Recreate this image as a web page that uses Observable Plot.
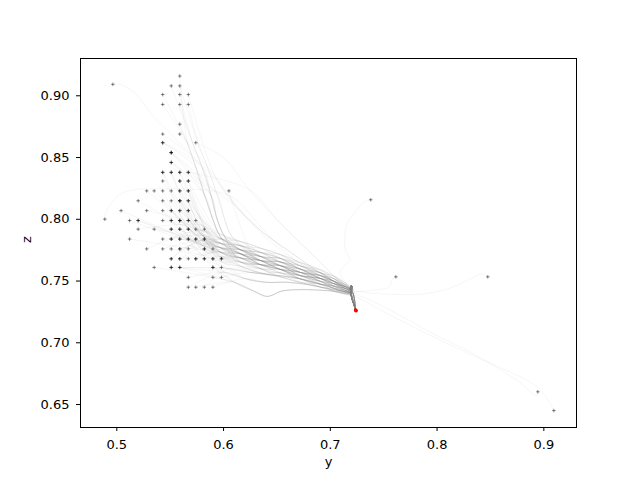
<!DOCTYPE html>
<html>
<head>
<meta charset="utf-8">
<script src="https://cdn.jsdelivr.net/npm/d3@7"></script>
<script src="https://cdn.jsdelivr.net/npm/@observablehq/plot@0.6"></script>
<style>
  html, body { margin: 0; padding: 0; background: white; }
</style>
</head>
<body>
<div id="chart"></div>
<script>
// ---------- data ----------
// starting points: [y, z, number of runs, route]
const starts = [
  [0.559,0.916,1,"D"],
  [0.551,0.908,1,"D"],[0.559,0.908,1,"D"],
  [0.543,0.901,1,"D"],[0.559,0.901,1,"D"],[0.567,0.901,1,"C"],
  [0.543,0.893,1,"D"],[0.559,0.893,1,"D"],[0.567,0.893,1,"D"],
  [0.559,0.877,1,"D"],
  [0.543,0.869,1,"D"],[0.559,0.869,1,"C"],
  [0.543,0.862,2,"D"],[0.574,0.862,1,"C"],
  [0.551,0.854,3,"D"],
  [0.551,0.846,2,"D"],
  [0.543,0.838,2,"T"],[0.551,0.838,2,"T"],[0.559,0.838,2,"T"],[0.567,0.838,2,"C"],
  [0.543,0.831,1,"T"],[0.559,0.831,2,"T"],[0.567,0.831,2,"T"],
  [0.528,0.823,1,"T"],[0.535,0.823,1,"T"],[0.543,0.823,1,"T"],[0.551,0.823,1,"T"],[0.559,0.823,2,"T"],[0.567,0.823,2,"T"],[0.605,0.823,1,"T"],
  [0.520,0.815,1,"T"],[0.543,0.815,1,"T"],[0.551,0.815,1,"T"],[0.559,0.815,3,"T"],[0.567,0.815,2,"T"],
  [0.504,0.807,1,"T"],[0.528,0.807,1,"T"],[0.543,0.807,1,"T"],[0.551,0.807,2,"T"],[0.559,0.807,2,"T"],[0.567,0.807,2,"T"],
  [0.512,0.799,1,"T"],[0.520,0.799,2,"T"],[0.543,0.799,1,"T"],[0.551,0.799,2,"T"],[0.559,0.799,3,"T"],[0.567,0.799,2,"T"],[0.574,0.799,1,"T"],
  [0.520,0.792,1,"T"],[0.535,0.792,1,"T"],[0.551,0.792,2,"T"],[0.559,0.792,2,"T"],[0.567,0.792,2,"T"],[0.574,0.792,1,"T"],[0.582,0.792,1,"T"],
  [0.512,0.784,1,"T"],[0.543,0.784,1,"T"],[0.551,0.784,2,"T"],[0.559,0.784,2,"T"],[0.567,0.784,2,"T"],[0.574,0.784,2,"T"],[0.582,0.784,2,"T"],
  [0.528,0.776,1,"T"],[0.543,0.776,1,"T"],[0.551,0.776,1,"T"],[0.559,0.776,2,"T"],[0.567,0.776,1,"T"],[0.582,0.776,2,"T"],[0.590,0.776,1,"T"],
  [0.551,0.768,2,"T"],[0.559,0.768,2,"T"],[0.567,0.768,1,"T"],[0.574,0.768,2,"T"],[0.582,0.768,2,"L"],[0.590,0.768,2,"L"],[0.598,0.768,2,"L"],
  [0.535,0.761,1,"L"],[0.551,0.761,2,"L"],[0.559,0.761,2,"L"],[0.590,0.761,2,"L"],[0.598,0.761,1,"L"],
  [0.567,0.753,1,"L"],[0.590,0.753,1,"L"],[0.598,0.753,1,"L"],
  [0.567,0.745,1,"L"],[0.574,0.745,1,"L"],[0.582,0.745,1,"L"],[0.590,0.745,1,"L"]
];

// main trunk that almost every run follows (7 neighbouring strands, low to high)
const trunkY = [0.580,0.597,0.616,0.635,0.653,0.672,0.691,0.703,0.714,0.7195];
const trunkZ = [
  [0.7710,0.7660,0.7620,0.7565,0.7535,0.7490,0.7450,0.7420,0.7395,0.7390],
  [0.7751,0.7697,0.7654,0.7599,0.7566,0.7517,0.7474,0.7440,0.7410,0.7400],
  [0.7790,0.7734,0.7687,0.7632,0.7595,0.7544,0.7497,0.7460,0.7425,0.7410],
  [0.7830,0.7770,0.7720,0.7665,0.7625,0.7570,0.7520,0.7480,0.7440,0.7420],
  [0.7870,0.7806,0.7753,0.7698,0.7655,0.7596,0.7543,0.7500,0.7455,0.7430],
  [0.7909,0.7843,0.7786,0.7731,0.7684,0.7623,0.7566,0.7520,0.7470,0.7440],
  [0.7950,0.7880,0.7820,0.7765,0.7715,0.7650,0.7590,0.7540,0.7485,0.7450]
];
const strandOrder = [3,2,4,3,1,5,3,2,4,0,3,6,2,4,3,1,5,3,4,2];
// slow strand-to-strand drift of each run along the trunk
const drift = [0,0,1,1,0,0,-1,-1,0,1,1,0,-1,-1];

// steep funnel taken by the runs starting high up
const funnels = [
  [[0.566,0.862],[0.574,0.842],[0.582,0.820],[0.590,0.800],[0.597,0.786]],
  [[0.571,0.862],[0.580,0.842],[0.588,0.820],[0.594,0.800],[0.601,0.786]],
  [[0.576,0.862],[0.585,0.842],[0.594,0.820],[0.601,0.800],[0.608,0.786]]
];
// wider upper routes
const upperRoutes = [
  [[0.600,0.850],[0.624,0.824],[0.653,0.797],[0.685,0.770],[0.710,0.749],[0.7195,0.743]],
  [[0.592,0.835],[0.612,0.810],[0.636,0.790],[0.660,0.775],[0.690,0.757],[0.7195,0.742]]
];
// lower routes
const lowerRoutes = [
  [[0.600,0.757],[0.620,0.752],[0.640,0.749],[0.660,0.749],[0.680,0.747],[0.700,0.7435],[0.714,0.7415],[0.7195,0.741]],
  [[0.610,0.749],[0.628,0.742],[0.641,0.7375],[0.655,0.742],[0.680,0.743],[0.700,0.742],[0.7195,0.7405]],
  [[0.605,0.760],[0.625,0.757],[0.645,0.755],[0.665,0.753],[0.685,0.749],[0.705,0.744],[0.7195,0.741]]
];
// the little hook at the end and the last step to the final point
const tails = [
  [[0.7205,0.7460],[0.7195,0.7390],[0.7239,0.7262]],
  [[0.7185,0.7445],[0.7200,0.7385],[0.7239,0.7262]],
  [[0.7215,0.7395],[0.7239,0.7262]],
  [[0.7195,0.7465],[0.7190,0.7400],[0.7239,0.7262]]
];
// individual runs with their own path
const specialRuns = [
  [[0.4963,0.9093],[0.5036,0.9090],[0.5159,0.9030],[0.5253,0.8935],[0.5347,0.8827],[0.5472,0.8719],[0.5597,0.8611],[0.5753,0.8476],[0.5909,0.8340],[0.606,0.818],[0.625,0.798],[0.645,0.781],[0.665,0.768],[0.691,0.754],[0.703,0.750],[0.714,0.745],[0.7195,0.743]],
  [[0.4888,0.8001],[0.4894,0.8044],[0.4941,0.8125],[0.5035,0.8206],[0.5160,0.8239],[0.5285,0.8247],[0.560,0.8245],[0.590,0.823],[0.610,0.817],[0.625,0.804],[0.640,0.789],[0.655,0.776],[0.672,0.764],[0.691,0.756],[0.703,0.7497],[0.714,0.745],[0.7195,0.7425]],
  [[0.7379,0.8158],[0.7314,0.8138],[0.7220,0.8044],[0.7158,0.7963],[0.7133,0.7828],[0.7142,0.7747],[0.7183,0.7666],[0.7120,0.7615],[0.7090,0.7570],[0.7140,0.7490],[0.7195,0.7430]],
  [[0.7614,0.7534],[0.7580,0.7512],[0.7548,0.7450],[0.7408,0.7429],[0.7252,0.7415]],
  [[0.8475,0.7534],[0.8423,0.7558],[0.8313,0.7518],[0.8126,0.7445],[0.7876,0.7396],[0.7627,0.7391],[0.7377,0.7401],[0.7252,0.7415]],
  [[0.8944,0.6603],[0.8932,0.6573],[0.8751,0.6694],[0.8313,0.6923],[0.7939,0.7085],[0.7627,0.7234],[0.7314,0.7369],[0.7236,0.7396]],
  [[0.9094,0.6451],[0.9000,0.6587],[0.8875,0.6680],[0.8407,0.6870],[0.7939,0.7059],[0.7627,0.7194],[0.7314,0.7342],[0.7236,0.7380]]
];
const finals = [[0.7239,0.7262],[0.7236,0.7266],[0.7242,0.7259]];

const xTicks = [0.5,0.6,0.7,0.8,0.9];
const yTicks = [0.65,0.70,0.75,0.80,0.85,0.90];
const xLabel = "y";
const yLabel = "z";

// ---------- build tables for the library ----------
const lineRows = [];
const markerRows = [];
let g = 0;
function addRun(pts) {
  pts.forEach(([y, z]) => lineRows.push({run: g, y, z}));
  g++;
}
function strandAt(i) {
  const base = strandOrder[g % strandOrder.length];
  return Math.max(0, Math.min(6, base + drift[(g * 5 + i) % drift.length]));
}
for (const [y, z, n, route] of starts) {
  for (let r = 0; r < n; r++) {
    markerRows.push({y, z});
    let pts = [[y, z]];
    if (route === "D") {
      const f = funnels[g % 3].filter(p => p[1] < z - 0.012);
      pts = pts.concat(f);
      const lastY = pts[pts.length - 1][0];
      trunkY.forEach((ty, i) => { if (ty > lastY + 0.01) pts.push([ty, trunkZ[strandAt(i)][i]]); });
    } else if (route === "T") {
      trunkY.forEach((ty, i) => { if (ty >= y + 0.025) pts.push([ty, trunkZ[strandAt(i)][i]]); });
    } else if (route === "C") {
      pts = pts.concat(upperRoutes[g % 2].filter(p => p[0] > y + 0.01 && p[1] < z - 0.005));
    } else {
      pts = pts.concat(lowerRoutes[g % 3].filter(p => p[0] >= y + 0.02));
    }
    pts = pts.concat(tails[g % 4]);
    addRun(pts);
  }
}
for (const path of specialRuns) {
  markerRows.push({y: path[0][0], z: path[0][1]});
  addRun(path.concat(tails[g % 4]));
}
const finalRows = finals.map(([y, z]) => ({y, z}));

const plusSymbol = {
  draw(context, size) {
    const r = Math.sqrt(size / Math.PI);
    context.moveTo(-r, 0); context.lineTo(r, 0);
    context.moveTo(0, -r); context.lineTo(0, r);
  }
};

const chart = Plot.plot({
  width: 640,
  height: 480,
  marginLeft: 80,
  marginRight: 64,
  marginTop: 58,
  marginBottom: 53,
  style: {fontFamily: "DejaVu Sans", fontSize: "13px", background: "white", color: "black"},
  x: {domain: [0.466, 0.9306]},
  y: {domain: [0.6314, 0.9302]},
  marks: [
    Plot.line(lineRows, {x: "y", y: "z", z: "run", curve: "catmull-rom", stroke: "#808080", strokeOpacity: 0.12, strokeWidth: 0.6}),
    Plot.dot(markerRows, {x: "y", y: "z", symbol: plusSymbol, r: 1.8, fill: "none", stroke: "black", strokeOpacity: 0.45, strokeWidth: 1}),
    Plot.dot(finalRows, {x: "y", y: "z", r: 1.7, fill: "red", stroke: "none"}),
    Plot.frame({stroke: "black", strokeWidth: 1}),
    Plot.axisX({ticks: xTicks, tickFormat: d3.format(".1f"), tickSize: 4, tickPadding: 8, label: null}),
    Plot.axisY({ticks: yTicks, tickFormat: d3.format(".2f"), tickSize: 4, tickPadding: 7, label: null}),
    Plot.text([xLabel], {text: d => d, frameAnchor: "bottom", dy: 38, fontSize: 13}),
    Plot.text([yLabel], {text: d => d, frameAnchor: "left", dx: -54, rotate: -90, fontSize: 13})
  ]
});
document.getElementById("chart").appendChild(chart);
</script>
</body>
</html>
